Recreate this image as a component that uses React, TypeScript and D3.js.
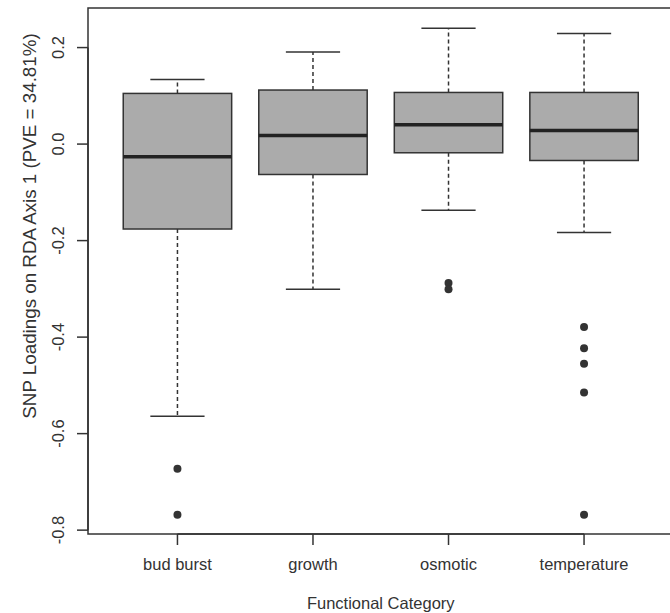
import React, { useRef, useEffect } from 'react'
import * as d3 from 'd3'

const categories = ['bud burst', 'growth', 'osmotic', 'temperature']
const whiskerLow = [-0.564, -0.301, -0.137, -0.183]
const q1 = [-0.176, -0.063, -0.018, -0.034]
const median = [-0.026, 0.018, 0.04, 0.028]
const q3 = [0.105, 0.112, 0.107, 0.107]
const whiskerHigh = [0.134, 0.191, 0.24, 0.229]
const outliers = [
    [-0.673, -0.768],
    [],
    [-0.288, -0.301],
    [-0.379, -0.423, -0.455, -0.515, -0.768],
]
const yTicks = [-0.8, -0.6, -0.4, -0.2, 0.0, 0.2]

export default function App() {
    const ref = useRef<SVGSVGElement>(null)
    const width = 670
    const height = 613
    const plot = { left: 88, right: 673.5, top: 8, bottom: 534 }

    useEffect(() => {
        const svg = d3.select(ref.current)
        svg.selectAll('*').remove()

        const font = "'Liberation Sans', Arial, sans-serif"
        const dark = '#333333'

        // R style: x from 0.5 to n+0.5, padded 4%
        const x = d3.scaleLinear().domain([0.34, 4.66]).range([plot.left, plot.right])
        const y = d3.scaleLinear().domain([-0.808, 0.282]).range([plot.bottom, plot.top])

        const boxW = 0.8
        const capW = 0.4

        const g = svg.append('g')

        categories.forEach((c, i) => {
            const cx = x(i + 1)
            // whiskers
            g.append('line')
                .attr('x1', cx).attr('x2', cx)
                .attr('y1', y(q1[i])).attr('y2', y(whiskerLow[i]))
                .attr('stroke', dark).attr('stroke-width', 1.5).attr('stroke-dasharray', '4,3')
            g.append('line')
                .attr('x1', cx).attr('x2', cx)
                .attr('y1', y(q3[i])).attr('y2', y(whiskerHigh[i]))
                .attr('stroke', dark).attr('stroke-width', 1.5).attr('stroke-dasharray', '4,3')
            // caps
            ;[whiskerLow[i], whiskerHigh[i]].forEach((v) => {
                g.append('line')
                    .attr('x1', x(i + 1 - capW / 2)).attr('x2', x(i + 1 + capW / 2))
                    .attr('y1', y(v)).attr('y2', y(v))
                    .attr('stroke', dark).attr('stroke-width', 1.5)
            })
            // box
            g.append('rect')
                .attr('x', x(i + 1 - boxW / 2))
                .attr('y', y(q3[i]))
                .attr('width', x(i + 1 + boxW / 2) - x(i + 1 - boxW / 2))
                .attr('height', y(q1[i]) - y(q3[i]))
                .attr('fill', '#ababab')
                .attr('stroke', dark)
                .attr('stroke-width', 1.5)
            // median
            g.append('line')
                .attr('x1', x(i + 1 - boxW / 2)).attr('x2', x(i + 1 + boxW / 2))
                .attr('y1', y(median[i])).attr('y2', y(median[i]))
                .attr('stroke', '#222').attr('stroke-width', 3.5)
            // outliers
            g.selectAll(null)
                .data(outliers[i])
                .join('circle')
                .attr('cx', cx)
                .attr('cy', (d) => y(d))
                .attr('r', 4)
                .attr('fill', dark)
        })

        // frame
        svg.append('rect')
            .attr('x', plot.left).attr('y', plot.top)
            .attr('width', plot.right - plot.left)
            .attr('height', plot.bottom - plot.top)
            .attr('fill', 'none')
            .attr('stroke', dark)
            .attr('stroke-width', 1.5)

        // y axis
        const yAxis = svg.append('g').attr('font-family', font).attr('font-size', 16.5).attr('fill', dark)
        yAxis.append('line')
            .attr('x1', plot.left).attr('x2', plot.left)
            .attr('y1', y(yTicks[0])).attr('y2', y(yTicks[yTicks.length - 1]))
            .attr('stroke', dark).attr('stroke-width', 1.5)
        yTicks.forEach((t) => {
            yAxis.append('line')
                .attr('x1', plot.left - 11).attr('x2', plot.left)
                .attr('y1', y(t)).attr('y2', y(t))
                .attr('stroke', dark).attr('stroke-width', 1.5)
            yAxis.append('text')
                .attr('transform', `translate(64,${y(t)}) rotate(-90)`)
                .attr('text-anchor', 'middle')
                .text(t.toFixed(1))
        })

        // x axis
        const xAxis = svg.append('g').attr('font-family', font).attr('font-size', 16.5).attr('fill', dark)
        xAxis.append('line')
            .attr('x1', x(1)).attr('x2', x(categories.length))
            .attr('y1', plot.bottom).attr('y2', plot.bottom)
            .attr('stroke', dark).attr('stroke-width', 1.5)
        categories.forEach((c, i) => {
            xAxis.append('line')
                .attr('x1', x(i + 1)).attr('x2', x(i + 1))
                .attr('y1', plot.bottom).attr('y2', plot.bottom + 11)
                .attr('stroke', dark).attr('stroke-width', 1.5)
            xAxis.append('text')
                .attr('x', x(i + 1))
                .attr('y', 570)
                .attr('text-anchor', 'middle')
                .text(c)
        })

        // titles
        svg.append('text')
            .attr('x', (plot.left + plot.right) / 2)
            .attr('y', 609)
            .attr('text-anchor', 'middle')
            .attr('font-family', font).attr('font-size', 16.5).attr('fill', dark)
            .text('Functional Category')
        svg.append('text')
            .attr('transform', 'translate(36,226) rotate(-90)')
            .attr('text-anchor', 'middle')
            .attr('font-family', font).attr('font-size', 18.8).attr('fill', dark)
            .text('SNP Loadings on RDA Axis 1 (PVE = 34.81%)')
    }, [])

    return (
        <svg
            ref={ref}
            width={width}
            height={height}
            style={{ position: 'absolute', left: 0, top: 0, background: '#fff' }}
        ></svg>
    )
}
